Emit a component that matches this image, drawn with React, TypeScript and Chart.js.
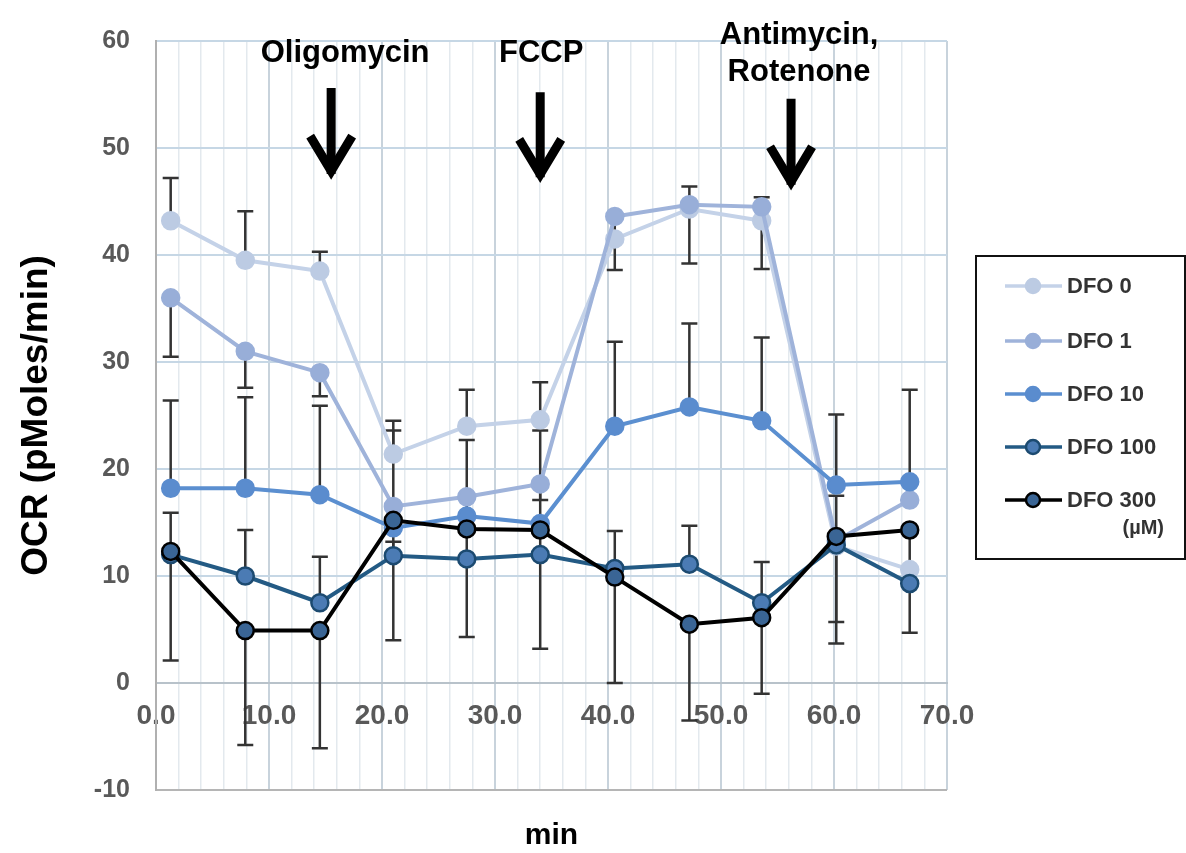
import React, { useEffect, useRef } from 'react';
import { Chart, registerables } from 'chart.js';

Chart.register(...registerables);

// ---------- data ----------
const minutes = [1.3, 7.9, 14.5, 21.0, 27.5, 34.0, 40.6, 47.2, 53.6, 60.2, 66.7];
const seriesLabels = ['DFO 0', 'DFO 1', 'DFO 10', 'DFO 100', 'DFO 300'];
const dfo0 = [43.2, 39.5, 38.5, 21.4, 24.0, 24.6, 41.5, 44.3, 43.2, 12.8, 10.6];
const dfo1 = [36.0, 31.0, 29.0, 16.5, 17.4, 18.6, 43.6, 44.7, 44.5, 13.3, 17.1];
const dfo10 = [18.2, 18.2, 17.6, 14.5, 15.6, 14.9, 24.0, 25.8, 24.5, 18.5, 18.8];
const dfo100 = [12.0, 10.0, 7.5, 11.9, 11.6, 12.0, 10.7, 11.1, 7.5, 12.9, 9.3];
const dfo300 = [12.3, 4.9, 4.9, 15.2, 14.4, 14.3, 9.9, 5.5, 6.1, 13.7, 14.3];
// error bar end values (cap position), null where not visible
const dfo0ErrEnd = [47.2, 44.1, 40.3, 24.5, 27.4, 28.1, null, 46.4, 45.4, null, null];
const dfo1ErrEnd = [30.5, 27.6, 26.8, null, null, 17.1, 38.6, 39.2, 38.7, 5.7, null];
const dfo10ErrEnd = [26.4, 26.7, 25.9, 23.6, 22.7, 23.6, 31.9, 33.6, 32.3, 25.1, 27.4];
const dfo100ErrEnd = [15.9, 14.3, 11.8, 13.2, null, null, 14.2, 14.7, 11.3, 17.5, null];
const dfo300ErrEnd = [2.1, -5.8, -6.1, 4.0, 4.3, 3.2, 0.0, -3.5, -1.0, 3.7, 4.7];

const yTicks = [-10, 0, 10, 20, 30, 40, 50, 60];
const xMajorTicks = [0, 10, 20, 30, 40, 50, 60, 70];

// injection annotations
const injectionLines = [['Oligomycin'], ['FCCP'], ['Antimycin,', 'Rotenone']];
const injectionArrowX = [15.5, 34.0, 56.2];
const injectionArrowTop = [55.6, 55.2, 54.6];
const injectionArrowTip = [47.0, 46.7, 46.0];

const FONT = '"Liberation Sans", Arial, Helvetica, sans-serif';

const styles = [
  { line: '#c4d2e8', fill: '#bccbe3', border: '#bccbe3' },
  { line: '#9fb3da', fill: '#98aed8', border: '#98aed8' },
  { line: '#5b8fd0', fill: '#5a8cce', border: '#5a8cce' },
  { line: '#235a84', fill: '#4b7bb4', border: '#1c4a70' },
  { line: '#000000', fill: '#3a6595', border: '#000000' },
];

export default function App() {
  const ref = useRef<HTMLCanvasElement>(null);

  useEffect(() => {
    const canvas = ref.current!;
    const values = [dfo0, dfo1, dfo10, dfo100, dfo300];
    const errEnds = [dfo0ErrEnd, dfo1ErrEnd, dfo10ErrEnd, dfo100ErrEnd, dfo300ErrEnd];

    const datasets = values.map((vals, i) => ({
      label: seriesLabels[i],
      data: minutes.map((m, j) => ({ x: m, y: vals[j] })),
      borderColor: styles[i].line,
      backgroundColor: styles[i].fill,
      pointBackgroundColor: styles[i].fill,
      pointBorderColor: styles[i].border,
      pointBorderWidth: 2.5,
      pointRadius: 8.5,
      pointHoverRadius: 8.5,
      borderWidth: 4,
      tension: 0,
      order: values.length - 1 - i,
    }));

    const overlay = {
      id: 'overlay',
      beforeDatasetsDraw(chart: any) {
        const { ctx, scales } = chart;
        const xs = scales.x;
        const ys = scales.y;
        ctx.save();
        ctx.strokeStyle = '#333333';
        ctx.lineWidth = 2.5;
        errEnds.forEach((ends, i) => {
          ends.forEach((end, j) => {
            if (end === null || end === undefined) return;
            const px = xs.getPixelForValue(minutes[j]);
            const y0 = ys.getPixelForValue(values[i][j]);
            const y1 = ys.getPixelForValue(end);
            ctx.beginPath();
            ctx.moveTo(px, y0);
            ctx.lineTo(px, y1);
            ctx.moveTo(px - 8, y1);
            ctx.lineTo(px + 8, y1);
            ctx.stroke();
          });
        });
        ctx.restore();
      },
      afterDraw(chart: any) {
        const { ctx, scales, chartArea } = chart;
        const xs = scales.x;
        const ys = scales.y;
        ctx.save();
        // injection arrows and labels
        ctx.fillStyle = '#000';
        ctx.strokeStyle = '#000';
        ctx.font = `bold 31px ${FONT}`;
        ctx.textAlign = 'center';
        ctx.textBaseline = 'middle';
        injectionLines.forEach((lines, i) => {
          const ax = xs.getPixelForValue(injectionArrowX[i]);
          const top = ys.getPixelForValue(injectionArrowTop[i]);
          const tip = ys.getPixelForValue(injectionArrowTip[i]);
          const tx = ax + (i === 0 ? 14 : i === 2 ? 8 : 1);
          if (lines.length === 1) {
            ctx.fillText(lines[0], tx, chartArea.top + 12);
          } else {
            ctx.fillText(lines[0], tx, chartArea.top - 6);
            ctx.fillText(lines[1], tx, chartArea.top + 31);
          }
          ctx.lineWidth = 9;
          ctx.lineCap = 'butt';
          ctx.beginPath();
          ctx.moveTo(ax, top);
          ctx.lineTo(ax, tip - 6);
          ctx.stroke();
          ctx.lineWidth = 9;
          ctx.lineJoin = 'miter';
          ctx.beginPath();
          ctx.moveTo(ax - 21, tip - 44);
          ctx.lineTo(ax, tip - 9);
          ctx.lineTo(ax + 21, tip - 44);
          ctx.stroke();
        });

        // x axis title
        ctx.font = `bold 30px ${FONT}`;
        ctx.fillStyle = '#000';
        ctx.fillText('min', (chartArea.left + chartArea.right) / 2, 836);

        // legend
        const boxL = 975, boxT = 255, boxR = 1185, boxB = 558;
        ctx.lineWidth = 2;
        ctx.strokeStyle = '#111';
        ctx.strokeRect(boxL + 1, boxT + 1, boxR - boxL - 1, boxB - boxT);
        const rows = [286, 341, 394, 447, 500];
        ctx.textAlign = 'left';
        ctx.font = `bold 22px ${FONT}`;
        seriesLabels.forEach((lab, i) => {
          const y = rows[i];
          ctx.strokeStyle = styles[i].line;
          ctx.lineWidth = 3.5;
          ctx.beginPath();
          ctx.moveTo(1005, y);
          ctx.lineTo(1062, y);
          ctx.stroke();
          ctx.beginPath();
          ctx.arc(1033, y, 7, 0, Math.PI * 2);
          ctx.fillStyle = styles[i].fill;
          ctx.fill();
          ctx.lineWidth = 2.5;
          ctx.strokeStyle = styles[i].border;
          ctx.stroke();
          ctx.fillStyle = '#333';
          ctx.fillText(lab, 1067, y + 1);
        });
        ctx.textAlign = 'right';
        ctx.font = `bold 20px ${FONT}`;
        ctx.fillText('(\u00b5M)', 1164, 528);
        ctx.restore();
      },
    };

    const chart = new Chart(canvas, {
      type: 'line',
      data: { datasets: datasets as any },
      options: {
        animation: false,
        responsive: false,
        devicePixelRatio: 1,
        layout: { padding: { left: 0, top: 39, right: 239, bottom: 63 } },
        plugins: { legend: { display: false }, tooltip: { enabled: false } },
        scales: {
          x: {
            type: 'linear',
            position: { y: 0 } as any,
            min: 0,
            max: 70,
            afterFit: (scale: any) => {
              scale.height = 0;
            },
            afterBuildTicks: (scale: any) => {
              const t: any[] = [];
              for (let v = 0; v <= 70; v += 2) t.push({ value: v });
              scale.ticks = t;
            },
            ticks: {
              autoSkip: false,
              maxRotation: 0,
              padding: 16,
              color: '#595959',
              font: { family: FONT, size: 28, weight: 'bold' },
              callback: (v: any) => (xMajorTicks.includes(Number(v)) ? Number(v).toFixed(1) : ''),
            },
            grid: {
              drawTicks: false,
              color: (c: any) => (xMajorTicks.includes(c.tick?.value) ? '#c8d3dc' : '#e3e9ee'),
              lineWidth: (c: any) => (xMajorTicks.includes(c.tick?.value) ? 2 : 1.5),
            },
            border: { display: true, color: '#b8c2ca', width: 2 },
          },
          y: {
            type: 'linear',
            position: 'left',
            min: -10,
            max: 60,
            afterFit: (scale: any) => {
              scale.width = 156;
            },
            afterBuildTicks: (scale: any) => {
              scale.ticks = yTicks.map((v) => ({ value: v }));
            },
            ticks: {
              padding: 26,
              color: '#595959',
              font: { family: FONT, size: 25, weight: 'bold' },
            },
            grid: {
              drawTicks: false,
              color: (c: any) =>
                c.tick?.value === 0 ? '#b8c2ca' : c.tick?.value === -10 ? '#b5b5b5' : '#c6d7e5',
              lineWidth: 2,
            },
            border: { display: true, color: '#b0b0b0', width: 2 },
            title: {
              display: true,
              text: 'OCR (pMoles/min)',
              color: '#000',
              font: { family: FONT, size: 37, weight: 'bold' },
              padding: { top: 15, bottom: 0 },
            },
          },
        },
      },
      plugins: [overlay],
    });
    return () => chart.destroy();
  }, []);

  return (
    <canvas
      ref={ref}
      width={1186}
      height={853}
      style={{ position: 'absolute', left: 0, top: 0, width: 1186, height: 853 }}
    />
  );
}
